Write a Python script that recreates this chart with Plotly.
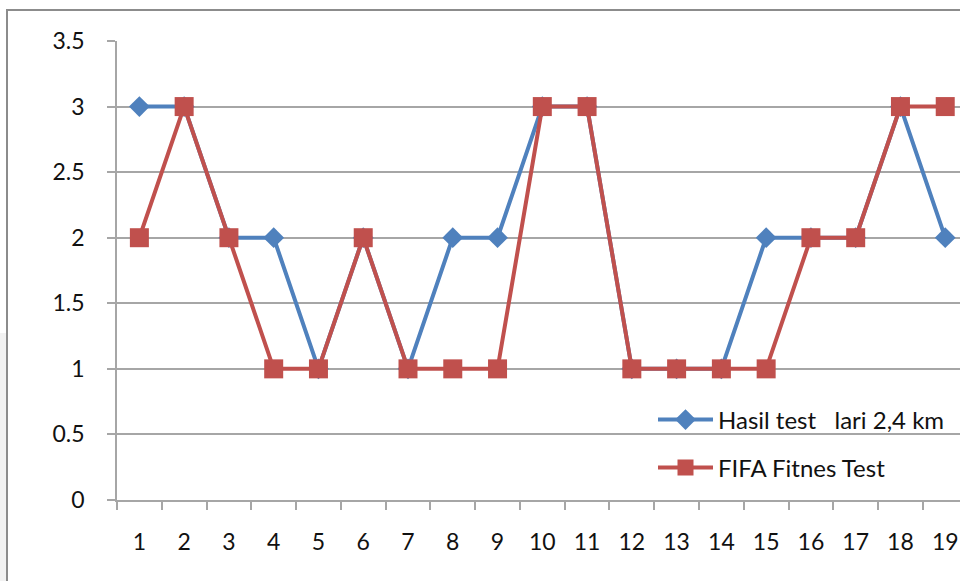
import plotly.graph_objects as go

# Test number (1..19) and scores of the two fitness tests
categories = [str(i) for i in range(1, 20)]
hasil_lari = [3, 3, 2, 2, 1, 2, 1, 2, 2, 3, 3, 1, 1, 1, 2, 2, 2, 3, 2]
fifa_fitnes = [2, 3, 2, 1, 1, 2, 1, 1, 1, 3, 3, 1, 1, 1, 1, 2, 2, 3, 3]
y_ticks = [0, 0.5, 1, 1.5, 2, 2.5, 3, 3.5]
y_labels = ["0", "0.5", "1", "1.5", "2", "2.5", "3", "3.5"]

BLUE = "#4F81BD"
RED = "#C0504D"
GRID = "#A6A6A6"
FONT = "Lato"
TXT = "#111111"
FS = 23

W, H = 960, 581
L, R, T, B = 117, 0, 41, 81

fig = go.Figure()
fig.add_trace(go.Scatter(
    x=categories, y=hasil_lari, mode="lines+markers",
    name="Hasil test\u00a0\u00a0 lari 2,4 km",
    line=dict(color=BLUE, width=4),
    marker=dict(symbol="diamond", size=16, color=BLUE),
    legend="legend", showlegend=True,
))
fig.add_trace(go.Scatter(
    x=categories, y=fifa_fitnes, mode="lines+markers",
    name="FIFA Fitnes Test",
    line=dict(color=RED, width=4),
    marker=dict(symbol="square", size=19, color=RED),
    legend="legend2", showlegend=True,
))

pw = W - L - R
ph = H - T - B

def px_x(px):
    return (px - L) / pw

def px_y(py):
    return (H - B - py) / ph

# outer chart frame and the light strip on its left
fig.add_shape(type="rect", xref="paper", yref="paper",
              x0=px_x(0), x1=px_x(6), y0=px_y(590), y1=px_y(333),
              fillcolor="#F2F2F2", line=dict(width=0), layer="below")
fig.add_shape(type="rect", xref="paper", yref="paper",
              x0=px_x(7), x1=px_x(1000), y0=px_y(600), y1=px_y(10),
              line=dict(color="#8C8C8C", width=2), fillcolor="rgba(0,0,0,0)",
              layer="below")

legend_common = dict(
    xanchor="left", yanchor="middle", itemwidth=55,
    font=dict(family=FONT, size=24, color=TXT),
    bgcolor="rgba(0,0,0,0)", borderwidth=0,
)
fig.update_layout(
    width=W, height=H,
    margin=dict(l=L, r=R, t=T, b=B),
    paper_bgcolor="white", plot_bgcolor="white",
    showlegend=True,
    font=dict(family=FONT, size=FS, color=TXT),
    legend=dict(x=px_x(653), y=px_y(420), **legend_common),
    legend2=dict(x=px_x(653), y=px_y(468), **legend_common),
    xaxis=dict(
        type="category", range=[-0.5, 18.33],
        showgrid=False, showline=True, linecolor=GRID, linewidth=1.5,
        ticks="outside", tickson="boundaries", ticklen=8,
        tickcolor=GRID, tickwidth=1.5,
        ticklabelstandoff=21,
        tickfont=dict(family=FONT, size=FS, color=TXT),
        zeroline=False,
    ),
    yaxis=dict(
        range=[0, 3.5], tickvals=y_ticks, ticktext=y_labels,
        showgrid=True, gridcolor=GRID, gridwidth=1.5,
        showline=True, linecolor=GRID, linewidth=1.5,
        ticks="outside", ticklen=8, tickcolor=GRID, tickwidth=1.5,
        ticklabelstandoff=18,
        tickfont=dict(family=FONT, size=FS, color=TXT),
        zeroline=False,
    ),
)

fig.write_html("out.html")
